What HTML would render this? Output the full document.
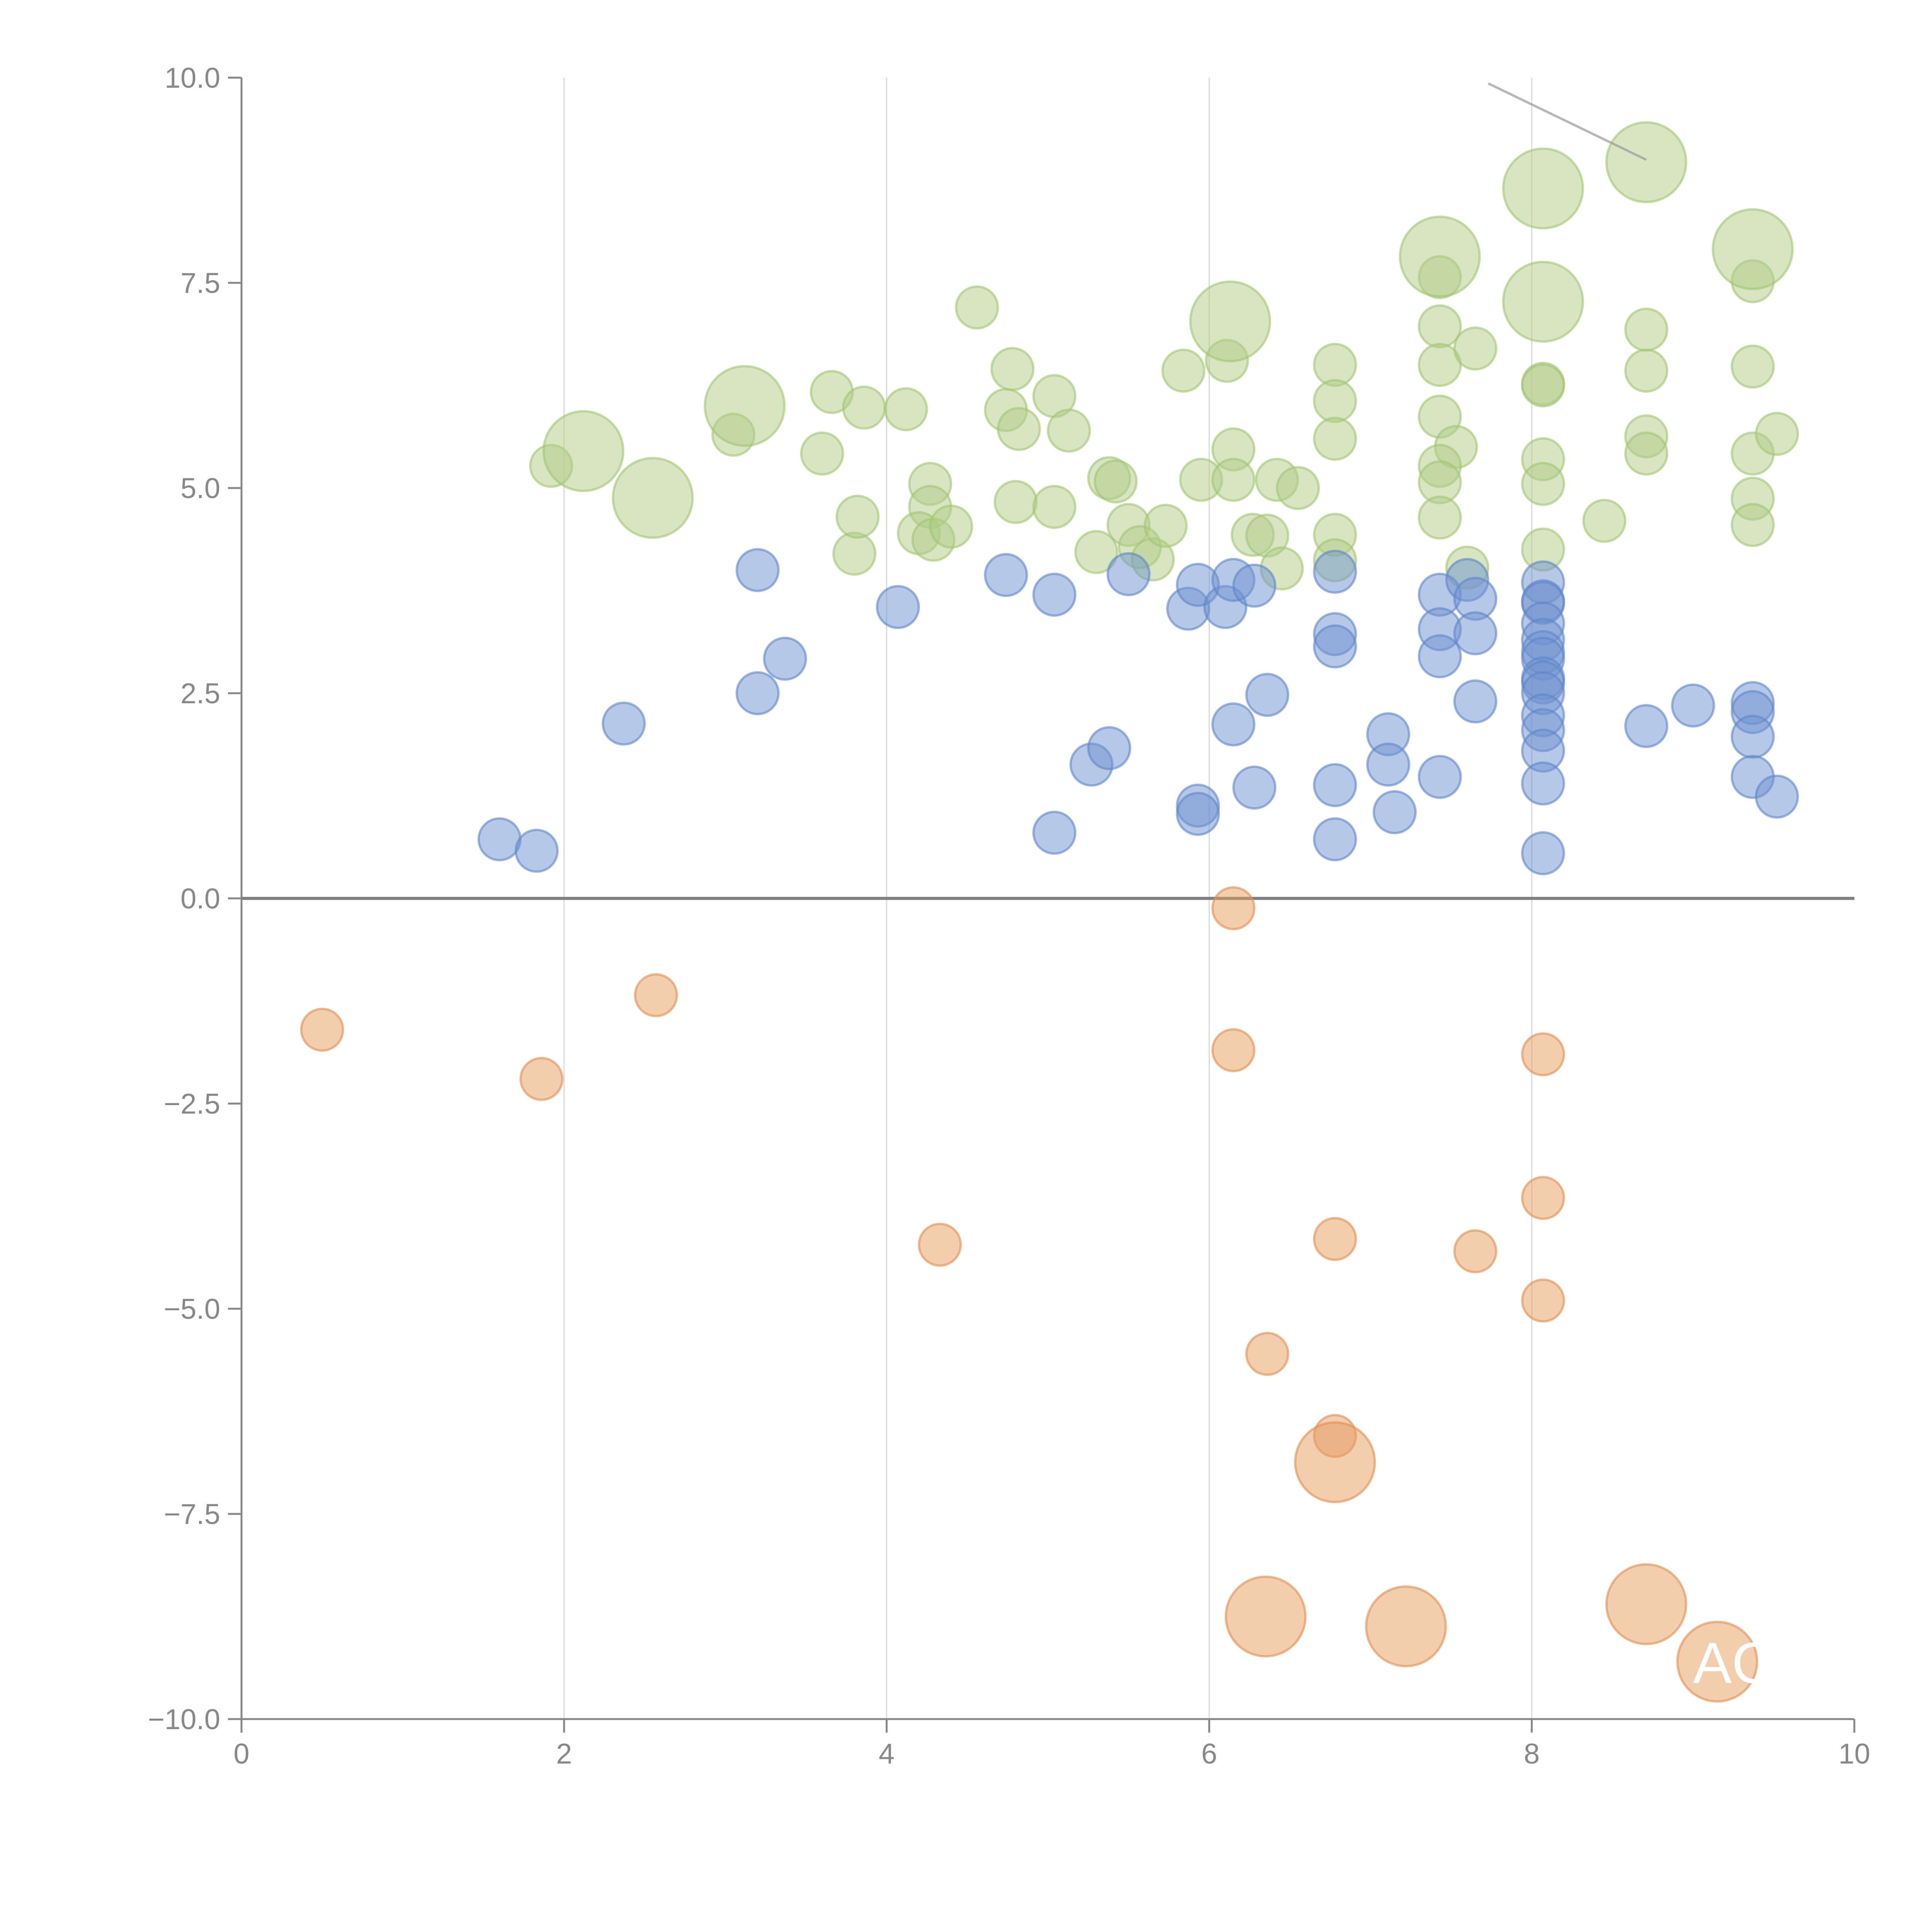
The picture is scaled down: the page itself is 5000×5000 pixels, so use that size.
<!DOCTYPE html>
<html><head><meta charset="utf-8"><style>
html,body{margin:0;padding:0;background:#fff;}
svg{display:block;}
text{font-family:"Liberation Sans",sans-serif;}
</style></head><body>
<svg id="chart" width="5000" height="5000" viewBox="0 0 5000 5000" xmlns="http://www.w3.org/2000/svg">
<g id="grid"></g>
<g id="axes"></g>
<g id="marks"></g>
<g id="annot"></g>
</svg>
<script>
const xTicks = [0,2,4,6,8,10];
const yTicks = [-10,-7.5,-5,-2.5,0,2.5,5,7.5,10];
const yTickLabels = ["\u221210.0","\u22127.5","\u22125.0","\u22122.5","0.0","2.5","5.0","7.5","10.0"];
const greenBigX = [2.12,2.55,3.12,6.13,7.43,8.07,8.07,8.71,9.37];
const greenBigY = [5.45,4.88,6.0,7.03,7.82,8.65,7.27,8.97,7.91];
const orangeBigX = [6.78,6.35,7.22,8.71,9.15];
const orangeBigY = [-6.87,-8.75,-8.87,-8.6,-9.3];
const greenX = [1.92,3.05,3.6,3.66,3.86,3.8,3.82,4.12,4.56,4.78,4.74,4.82,4.8,5.04,5.13,5.04,4.27,4.27,4.2,4.29,4.4,5.38,5.42,5.3,5.5,5.57,5.65,5.73,5.84,5.95,6.11,6.15,6.15,6.27,6.36,6.42,6.45,6.55,6.78,6.78,6.78,6.78,6.78,7.43,7.43,7.43,7.65,7.43,7.53,7.43,7.43,7.43,7.6,8.07,8.07,8.07,8.07,8.07,8.45,8.71,8.71,8.71,8.71,9.37,9.37,9.37,9.37,9.37,9.52];
const greenY = [5.27,5.65,5.42,6.17,5.98,4.2,4.65,5.96,7.2,6.45,5.95,5.72,4.83,6.12,5.7,4.77,5.05,4.77,4.45,4.37,4.53,5.12,5.08,4.22,4.55,4.28,4.13,4.54,6.43,5.1,6.55,5.47,5.1,4.43,4.42,5.1,4.02,5.0,6.5,6.06,5.6,4.43,4.12,7.57,6.97,6.5,6.7,5.87,5.5,5.27,5.07,4.64,4.03,6.27,6.25,5.35,5.05,4.25,4.6,6.93,6.43,5.63,5.42,7.52,6.48,5.42,4.87,4.55,5.66];
const blueX = [1.6,1.83,2.37,3.2,3.2,3.37,4.07,4.74,5.04,5.04,5.27,5.38,5.5,5.87,5.93,5.93,5.93,6.1,6.15,6.15,6.28,6.28,6.36,6.78,6.78,6.78,6.78,6.78,7.11,7.11,7.15,7.43,7.43,7.43,7.43,7.6,7.65,7.65,7.65,8.07,8.07,8.07,8.07,8.07,8.07,8.07,8.07,8.07,8.07,8.07,8.07,8.07,8.07,8.07,8.71,9.0,9.37,9.37,9.37,9.37,9.52];
const blueY = [0.72,0.58,2.13,4.0,2.5,2.92,3.55,3.94,3.7,0.8,1.63,1.83,3.95,3.53,3.82,1.13,1.03,3.55,3.88,2.12,3.81,1.35,2.48,3.98,3.22,3.07,1.38,0.72,2.0,1.63,1.05,3.7,3.28,2.95,1.48,3.88,3.65,3.23,2.4,3.85,3.62,3.6,3.35,3.15,3.0,2.92,2.68,2.63,2.5,2.23,2.05,1.8,1.4,0.55,2.1,2.35,2.38,2.27,1.97,1.48,1.24];
const orangeX = [0.5,1.86,2.57,4.33,6.15,6.15,6.36,6.78,6.78,7.65,8.07,8.07,8.07];
const orangeY = [-1.6,-2.2,-1.18,-4.22,-0.12,-1.85,-5.55,-4.15,-6.55,-4.3,-1.9,-3.65,-4.9];

const X0=625,X1=4799,Y0=4449,Y1=201;
function sx(v){return X0+(v-0)/(10-0)*(X1-X0);}
function sy(v){return Y0-(v+10)/20*(Y0-Y1);}
const NS="http://www.w3.org/2000/svg";
function mk(tag,attrs,parent){const e=document.createElementNS(NS,tag);for(const k in attrs)e.setAttribute(k,attrs[k]);parent.appendChild(e);return e;}
const grid=document.getElementById('grid'),axes=document.getElementById('axes'),marks=document.getElementById('marks'),annot=document.getElementById('annot');

xTicks.forEach(t=>{
  if(t>0&&t<10){const g=mk('line',{x1:sx(t),x2:sx(t),y1:Y1,y2:Y0,stroke:'#d8d8d8','stroke-width':3},grid);
  
  }
  const tk=mk('line',{x1:sx(t),x2:sx(t),y1:Y0,y2:Y0+35,stroke:'#888','stroke-width':5},axes);
  
  
  const tx=mk('text',{x:sx(t),y:Y0+115,'text-anchor':'middle','font-size':74,fill:'#888'},axes);
  tx.textContent=String(t);
  
  
});
yTicks.forEach((t,i)=>{
  const tk=mk('line',{x1:X0-35,x2:X0,y1:sy(t),y2:sy(t),stroke:'#888','stroke-width':5},axes);
  
  
  const tx=mk('text',{x:X0-55,y:sy(t)+26,'text-anchor':'end','font-size':74,fill:'#888'},axes);
  tx.textContent=yTickLabels[i];
  
  
});
let a=mk('line',{x1:X0,x2:X0,y1:Y1,y2:Y0,stroke:'#888','stroke-width':5},axes);


a=mk('line',{x1:X0,x2:X1,y1:Y0,y2:Y0,stroke:'#888','stroke-width':5},axes);


a=mk('line',{x1:X0,x2:X1,y1:sy(0),y2:sy(0),stroke:'#808080','stroke-width':8},axes);



function drawSeries(xs,ys,r,fill,stroke,name){
  xs.forEach((x,i)=>{
    const c=mk('circle',{cx:sx(x),cy:sy(ys[i]),r:r,fill:fill,'fill-opacity':0.5,stroke:stroke,'stroke-opacity':0.6,'stroke-width':6},marks);
    
    
  });
}
drawSeries(greenX,greenY,54,'#b0cc85','#a3c46f','green-bubble');
drawSeries(greenBigX,greenBigY,103,'#b0cc85','#a3c46f','green-large-bubble');
drawSeries(blueX,blueY,54,'#6d92cf','#5f86c8','blue-bubble');
drawSeries(orangeX,orangeY,54,'#e59c5e','#e09050','orange-bubble');
drawSeries(orangeBigX,orangeBigY,103,'#e59c5e','#e09050','orange-large-bubble');

const ln=mk('line',{x1:sx(7.73),y1:sy(9.93),x2:sx(8.71),y2:sy(9.0),stroke:'#999','stroke-opacity':0.7,'stroke-width':6},annot);


const lb=mk('text',{x:sx(9.0),y:sy(-9.3)+55,'font-size':150,fill:'#fff'},annot);
lb.textContent='AC';


</script>
</body></html>
